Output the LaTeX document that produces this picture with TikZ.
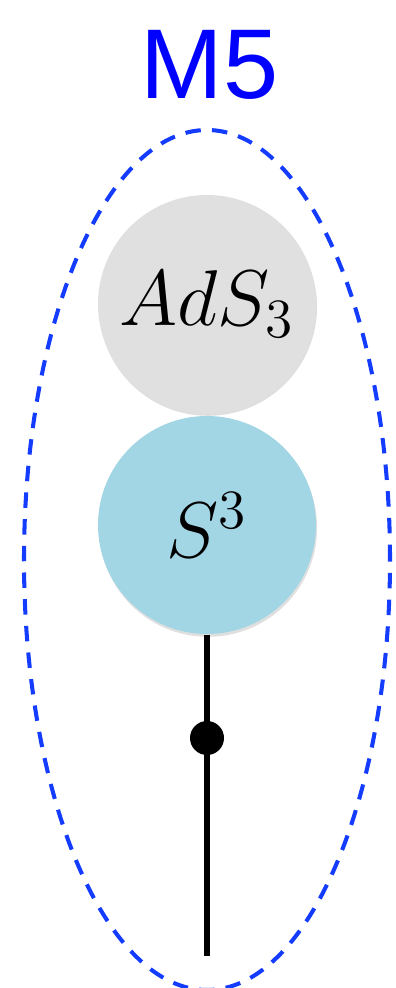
\RequirePackage{fix-cm}
\documentclass[tikz,border=0pt]{standalone}
\usepackage{fontspec}
\newfontfamily\labelfont{Liberation Sans}
\usetikzlibrary{shadows}
\definecolor{mblue}{RGB}{0,0,255}
\definecolor{dashblue}{RGB}{20,60,255}
\definecolor{adsgray}{RGB}{224,224,224}
\definecolor{spherblue}{RGB}{163,214,229}
\tikzset{
  factor/.style={circle,minimum size=2.18cm,inner sep=0pt,
    drop shadow={opacity=0.25,shadow xshift=0.3pt,shadow yshift=-0.8pt},
    font=\fontsize{22.5}{27}\selectfont},
}
\begin{document}
\begin{tikzpicture}
  \useasboundingbox (0,0) rectangle (3.95,-9.88);
  \node[anchor=base,text=mblue,font=\labelfont\fontsize{28.2}{34}\selectfont] (title) at (2.095,-0.99) {M5};
  \draw[dashblue,line width=1.15pt,dash pattern=on 4.4pt off 3.2pt] (2.07,-5.6) ellipse (1.83 and 4.3);
  \node[factor,fill=adsgray] (ads) at (2.07,-3.04) {$AdS_3$};
  \node[factor,fill=spherblue] (sph) at (2.07,-5.25) {$S^3$};
  \coordinate (end) at (2.07,-9.56);
  \draw[line width=1.6pt] (sph.south) -- (end);
  \fill (2.07,-7.38) circle (0.17);
\end{tikzpicture}
\end{document}
